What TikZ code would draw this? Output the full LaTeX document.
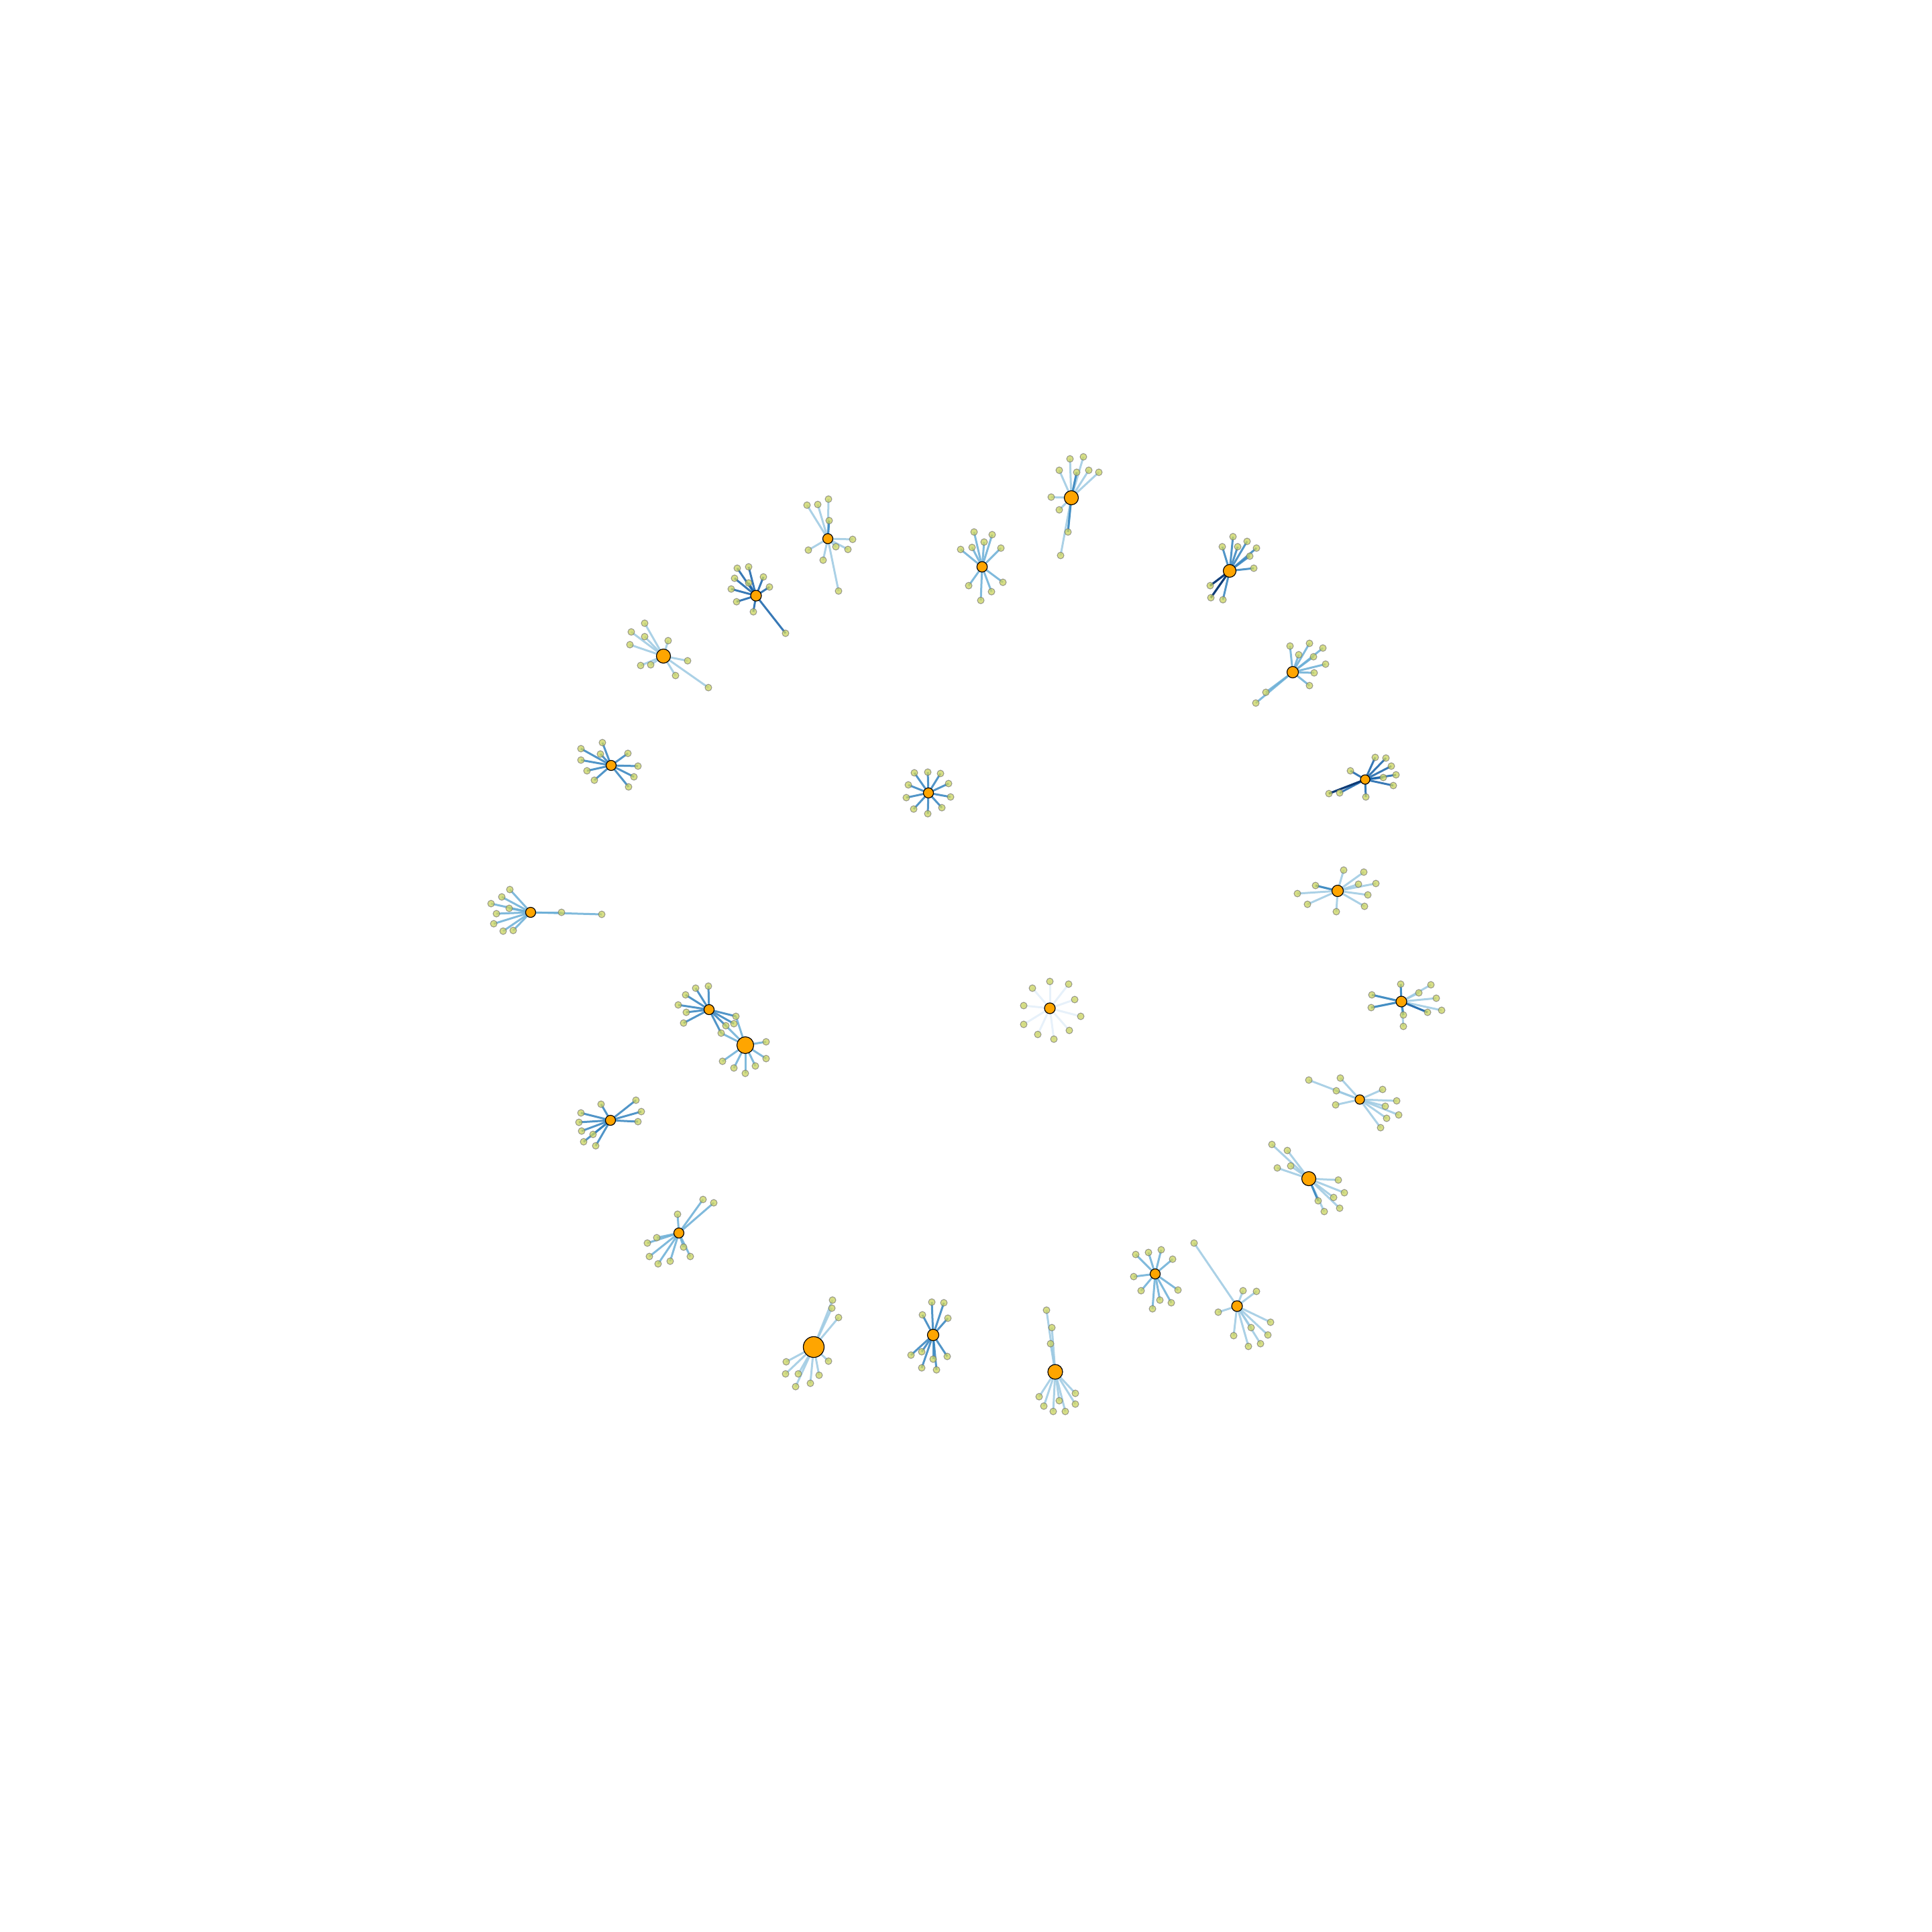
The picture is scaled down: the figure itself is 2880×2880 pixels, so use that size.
\documentclass[tikz,border=0pt]{standalone}
\usepackage{tikz}
\usetikzlibrary{backgrounds}
\usepackage{xcolor}
\definecolor{hubor}{HTML}{FFA500}
\definecolor{leafyl}{HTML}{C9D35E}
\definecolor{bluenv}{HTML}{08306B}
\definecolor{bluedk}{HTML}{1561A9}
\definecolor{bluemd}{HTML}{3383BE}
\definecolor{bluelm}{HTML}{6AAED6}
\definecolor{bluelt}{HTML}{9CC9E2}
\definecolor{bluefa}{HTML}{E3EEF9}
\tikzset{
  hub/.style={circle,draw=black,fill=hubor,line width=0.12mm,
              minimum size=#1,inner sep=0pt},
  hub/.default=1.5mm,
  leaf/.style={circle,draw=black!55,draw opacity=0.7,fill=leafyl,
               fill opacity=0.75,line width=0.1mm,
               minimum size=1mm,inner sep=0pt},
  link/.style={draw=#1,line width=0.3mm,draw opacity=0.85},
}
% one star: name, hub size, hub position, edge colour, leaves
\newcommand{\cluster}[5]{%
  \node[hub=#2] (#1) at #3 {};
  \foreach \p [count=\i] in {#5} {
    \node[leaf] (#1-\i) at \p {};
    \begin{pgfonlayer}{background}
      \draw[link=#4] (#1.center) -- (#1-\i.center);
    \end{pgfonlayer}
  }%
}

\begin{document}
\begin{tikzpicture}[x=0.1mm,y=-0.1mm]
  \useasboundingbox (0,0) rectangle (2880,2880);

  % outer ring, clockwise from the top
  \cluster{F}{2.1mm}{(1597,742)}{bluelt}{(1595,684),(1615,681),(1579,701),(1605,704),(1623,701),(1638,704),(1567,741),(1579,760),(1592,793),(1581,828)}
  \cluster{H}{1.9mm}{(1833,851)}{bluemd}{(1838,800),(1822,815),(1845,815),(1859,807),(1873,817),(1863,829),(1869,847),(1804,873),(1805,891),(1823,894)}
  \cluster{I}{1.7mm}{(1927,1002)}{bluelm}{(1923,963),(1952,959),(1972,966),(1936,976),(1958,979),(1976,990),(1959,1003),(1952,1022),(1887,1032),(1872,1048)}
  \cluster{J}{1.4mm}{(2035,1162)}{bluedk}{(2050,1129),(2066,1130),(2013,1149),(2074,1142),(2081,1155),(2077,1171),(2062,1159),(1981,1183),(1997,1182),(2036,1188)}
  \cluster{K}{1.7mm}{(1994,1328)}{bluelt}{(2003,1297),(2033,1300),(2025,1318),(2051,1317),(1961,1320),(1934,1332),(2039,1334),(1949,1348),(1992,1359),(2034,1351)}
  \cluster{L}{1.6mm}{(2089,1493)}{bluelt}{(2088,1467),(2133,1468),(2115,1480),(2141,1488),(2045,1483),(2044,1502),(2149,1506),(2128,1509),(2092,1513),(2092,1530)}
  \cluster{M}{1.4mm}{(2027,1639)}{bluelt}{(1951,1610),(1998,1607),(1992,1626),(2061,1624),(2082,1641),(1991,1647),(2065,1649),(2085,1662),(2067,1667),(2058,1681)}
  \cluster{N}{2.1mm}{(1951,1757)}{bluelt}{(1896,1706),(1919,1715),(1904,1741),(1924,1738),(1995,1759),(2004,1778),(1988,1785),(1965,1790),(1974,1806),(1997,1801)}
  \cluster{P}{1.6mm}{(1844,1947)}{bluelt}{(1780,1853),(1853,1924),(1873,1925),(1816,1956),(1894,1971),(1865,1979),(1890,1990),(1839,1991),(1879,2003),(1861,2007)}
  \cluster{O}{1.5mm}{(1722,1899)}{bluelm}{(1693,1870),(1712,1867),(1731,1863),(1748,1877),(1690,1903),(1756,1923),(1701,1924),(1729,1938),(1746,1942),(1718,1951)}
  \cluster{S}{2.2mm}{(1573,2045)}{bluelt}{(1560,1953),(1568,1979),(1566,2003),(1549,2082),(1556,2096),(1570,2104),(1579,2088),(1588,2104),(1603,2077),(1603,2093)}
  \cluster{R}{1.7mm}{(1391,1990)}{bluemd}{(1389,1941),(1407,1942),(1375,1960),(1413,1965),(1358,2020),(1374,2015),(1391,2026),(1412,2022),(1374,2039),(1396,2042)}
  \cluster{Q}{3.1mm}{(1213,2008)}{bluelt}{(1241,1938),(1240,1950),(1250,1964),(1235,2029),(1221,2050),(1208,2062),(1172,2030),(1171,2048),(1190,2048),(1186,2067)}
  \cluster{U}{1.5mm}{(1012,1838)}{bluelm}{(1010,1810),(1048,1788),(1064,1793),(979,1845),(965,1853),(968,1873),(981,1884),(999,1880),(1019,1859),(1029,1873)}
  \cluster{T}{1.5mm}{(910,1670)}{bluemd}{(896,1646),(948,1640),(866,1659),(956,1657),(863,1673),(951,1672),(867,1686),(884,1691),(870,1702),(888,1708)}
  \cluster{W}{1.5mm}{(1057,1505)}{bluemd}{(1056,1470),(1037,1473),(1022,1483),(1011,1498),(1023,1509),(1019,1525),(1097,1515),(1082,1529),(1094,1526),(1075,1540)}
  \cluster{X}{2.5mm}{(1111,1558)}{bluelm}{(1142,1553),(1142,1578),(1126,1589),(1111,1600),(1094,1592),(1077,1582)}
  \cluster{V}{1.5mm}{(791,1360)}{bluelm}{(760,1326),(748,1337),(732,1347),(759,1354),(740,1362),(736,1377),(750,1388),(765,1387),(837,1360),(897,1363)}
  \cluster{C}{1.5mm}{(911,1141)}{bluemd}{(898,1107),(866,1116),(895,1124),(866,1133),(936,1123),(951,1142),(875,1149),(886,1163),(945,1158),(937,1173)}
  \cluster{B}{2.1mm}{(989,978)}{bluelt}{(961,929),(941,942),(961,949),(939,961),(996,955),(1025,985),(955,992),(970,991),(1007,1007),(1056,1025)}
  \cluster{A}{1.6mm}{(1127,888)}{bluedk}{(1099,847),(1116,845),(1138,860),(1147,875),(1095,862),(1116,869),(1090,878),(1098,897),(1123,912),(1171,944)}
  \cluster{D}{1.5mm}{(1234,803)}{bluelt}{(1203,753),(1219,752),(1235,744),(1236,776),(1271,804),(1205,820),(1246,815),(1264,819),(1227,835),(1250,881)}
  \cluster{E}{1.55mm}{(1464,845)}{bluelm}{(1452,793),(1479,797),(1467,808),(1449,816),(1432,819),(1492,817),(1444,873),(1478,882),(1462,895),(1495,868)}

  % inner pair
  \cluster{G}{1.5mm}{(1384,1182)}{bluemd}{(1363,1152),(1383,1151),(1402,1153),(1414,1168),(1354,1170),(1351,1189),(1417,1188),(1362,1206),(1383,1213),(1404,1204)}
  \cluster{Y}{1.6mm}{(1565,1503)}{bluefa}{(1565,1463),(1539,1473),(1593,1467),(1602,1490),(1526,1499),(1611,1515),(1526,1527),(1594,1536),(1547,1542),(1571,1549)}

  % heavier links and shared leaves
  \begin{pgfonlayer}{background}
    \draw[link=bluenv] (H.center) -- (H-8.center);
    \draw[link=bluenv] (H.center) -- (H-9.center);
    \draw[link=bluenv] (J.center) -- (J-8.center);
    \draw[link=bluemd] (F.center) -- (F-4.center);
    \draw[link=bluemd] (F.center) -- (F-9.center);
    \draw[link=bluemd] (D.center) -- (D-4.center);
    \draw[link=bluemd] (K.center) -- (K-5.center);
    \draw[link=bluemd] (N.center) -- (N-8.center);
    \draw[link=bluemd] (L.center) -- (L-1.center);
    \draw[link=bluemd] (L.center) -- (L-5.center);
    \draw[link=bluemd] (L.center) -- (L-6.center);
    \draw[link=bluemd] (L.center) -- (L-9.center);
    \draw[link=bluedk] (L.center) -- (L-8.center);
    \draw[link=bluelm] (X.center) -- (W-7.center);
    \draw[link=bluelm] (X.center) -- (W-8.center);
    \draw[link=bluelm] (X.center) -- (W-10.center);
  \end{pgfonlayer}
\end{tikzpicture}
\end{document}
